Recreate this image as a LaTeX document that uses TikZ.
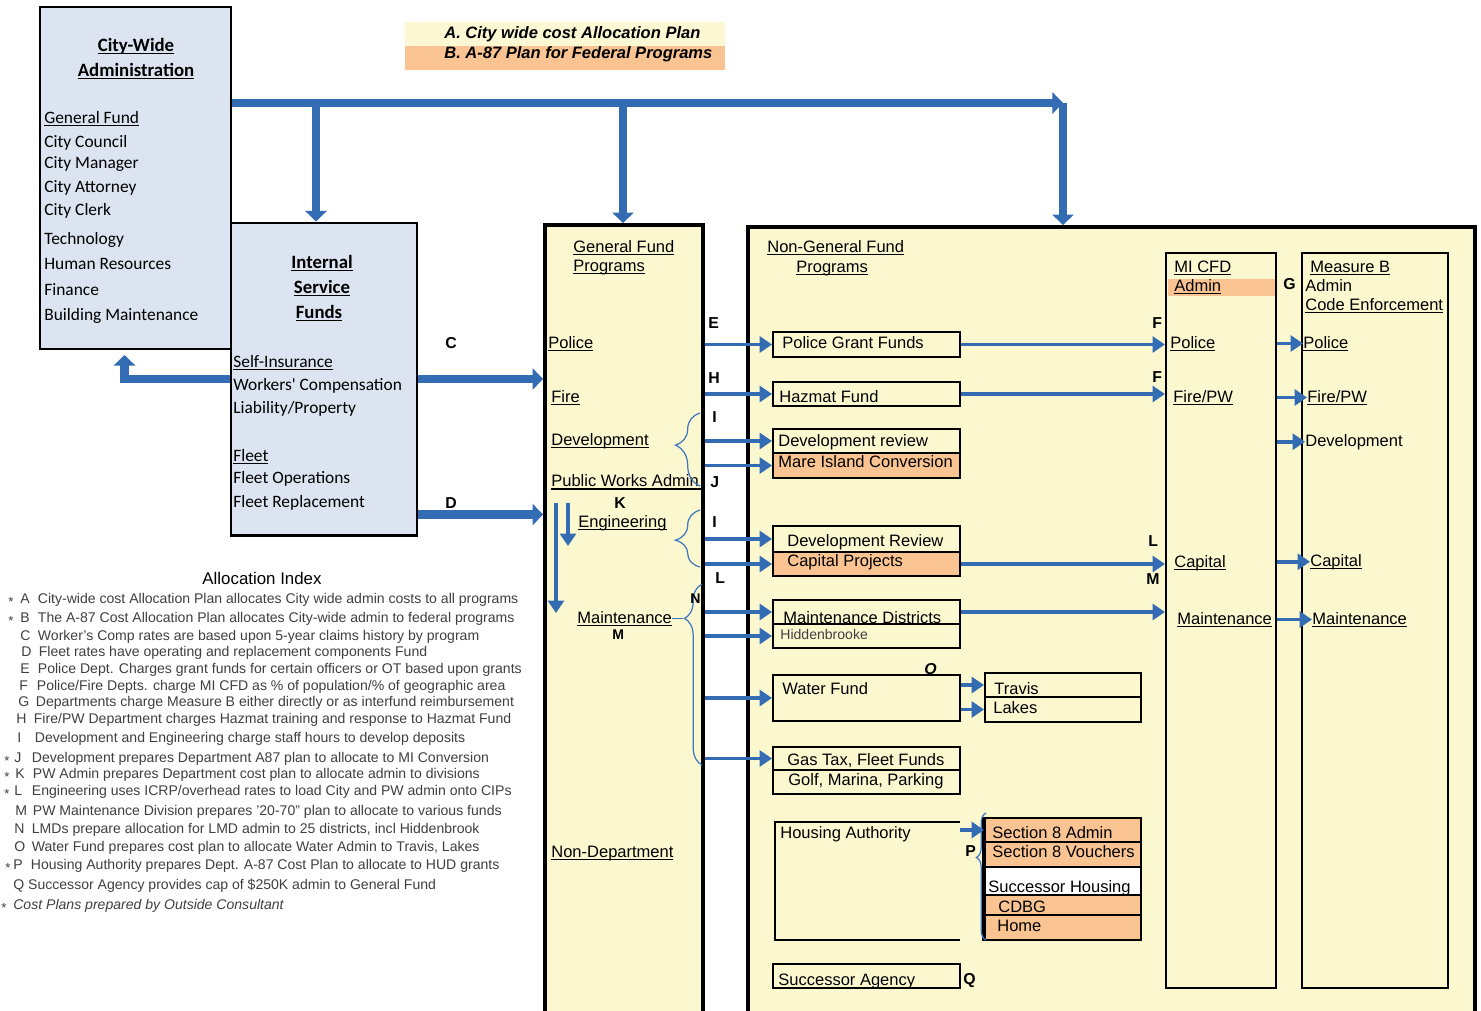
\documentclass[tikz,border=0pt]{standalone}
\usepackage{fontspec}
\setmainfont{Liberation Sans}
\newfontfamily\calib{Carlito}
\usetikzlibrary{arrows.meta, positioning, fit, calc, decorations.pathreplacing}
\definecolor{adminblue}{RGB}{219,228,240}
\definecolor{progyellow}{RGB}{251,248,208}
\definecolor{planorange}{RGB}{250,196,146}
\definecolor{legyellow}{RGB}{252,248,212}
\definecolor{flowblue}{RGB}{52,108,180}
\definecolor{braceblue}{RGB}{62,118,192}
\definecolor{idxgray}{RGB}{64,64,64}

% underline at a fixed depth below the baseline
\newsavebox\undlbox
\newcommand{\undl}[1]{\sbox\undlbox{#1}\rlap{\rule[-1.7pt]{\wd\undlbox}{0.7pt}}\usebox\undlbox}
% index letter followed by its description
\newcommand{\ixl}[2]{\makebox[10pt][l]{#1}#2}

\tikzset{
  adminbox/.style={draw, line width=1.7pt, fill=adminblue, inner sep=0pt},
  progbox/.style={draw, line width=2.2pt, fill=progyellow, inner sep=0pt},
  colbox/.style={draw, line width=1.2pt, fill=progyellow, inner sep=0pt},
  fundbox/.style={draw, line width=1.1pt, fill=progyellow, inner sep=0pt},
  planbox/.style={fundbox, fill=planorange},
  lbl/.style={anchor=base west, inner sep=0pt, font=\fontsize{9.4}{11}\selectfont},
  clbl/.style={anchor=base west, inner sep=0pt, font=\calib\fontsize{9.9}{12}\selectfont},
  ctitle/.style={anchor=base, inner sep=0pt, font=\calib\bfseries\fontsize{10.7}{13}\selectfont},
  tag/.style={anchor=base west, inner sep=0pt, font=\bfseries\fontsize{9}{10}\selectfont},
  idx/.style={anchor=base west, inner sep=0pt, font=\fontsize{8}{9}\selectfont, text=idxgray},
  idxstar/.style={anchor=base west, inner sep=0pt, font=\fontsize{7.5}{8}\selectfont, text=idxgray},
  bigarr/.style={-{Triangle[width=12pt,length=6pt]}, line width=5pt, draw=flowblue},
  midarr/.style={-{Triangle[width=9pt,length=7pt]}, line width=2.2pt, draw=flowblue},
  bracket/.style 2 args={draw=braceblue, line width=0.7pt, decorate,
                         decoration={brace, amplitude=#1, aspect=#2}},
}

\begin{document}
\begin{tikzpicture}[x=0.02cm, y=-0.02cm]
  \clip (0,0) rectangle (1481,1011);
  \fill[white] (0,0) rectangle (1481,1011);

  % Plan legend
  \node[fit={(405,22) (725,46)}, inner sep=0pt, fill=legyellow] (legA) {};
  \node[fit={(405,46) (725,70)}, inner sep=0pt, fill=planorange] (legB) {};
  \node[lbl, font=\bfseries\itshape\fontsize{9.4}{11}\selectfont] (legAt) at (444,38) {A. City wide cost Allocation Plan};
  \node[lbl, font=\bfseries\itshape\fontsize{9.4}{11}\selectfont] (legBt) at (444,58) {B. A-87 Plan for Federal Programs};

  % Admin and internal service boxes
  \node[adminbox, fit={(40,7) (231,349)}] (cwa) {};
  \node[adminbox, fit={(231,223) (417,535)}] (isf) {};

  % Program frames
  \node[progbox, fit={(545,225) (703,1040)}] (gfp) {};
  \node[progbox, fit={(748,227) (1475,1040)}] (ngf) {};
  \node[colbox, fit={(1166,253) (1276,988)}] (micfd) {};
  \node[colbox, fit={(1302,253) (1448,988)}] (measb) {};
  \fill[planorange] (1168,279) rectangle (1275,296);   % admin band

  % Non-general fund boxes
  \node[fundbox, fit={(773,332) (960,357)}] (pgf) {};
  \node[fundbox, fit={(773,382) (960,406)}] (haz) {};
  \node[fundbox, fit={(773,429) (960,453)}] (devrev) {};
  \node[planbox, fit={(773,453) (960,478)}] (mare) {};
  \node[fundbox, fit={(773,526) (960,552)}] (devrev2) {};
  \node[planbox, fit={(773,552) (960,576)}] (cap) {};
  \node[fundbox, fit={(773,600) (960,624)}] (mdist) {};
  \node[fundbox, fit={(773,624) (960,648)}] (hidd) {};
  \node[fundbox, fit={(773,675) (960,721)}] (water) {};
  \node[fundbox, fit={(985,673) (1141,697)}] (travis) {};
  \node[fundbox, fit={(985,697) (1141,722)}] (lakes) {};
  \node[fundbox, fit={(773,747) (960,770)}] (gastax) {};
  \node[fundbox, fit={(773,770) (960,794)}] (golf) {};
  \node[fit={(775,822) (960,940)}, inner sep=0pt] (housing) {};
  \draw[line width=1.1pt] (housing.north east) -- (housing.north west)
        -- (housing.south west) -- (housing.south east);
  \node[planbox, fit={(985,818) (1141,842)}] (sec8a) {};
  \node[planbox, fit={(985,842) (1141,867)}] (sec8v) {};
  \node[fundbox, fill=white, fit={(985,867) (1141,895)}] (shous) {};
  \node[planbox, fit={(985,895) (1141,915)}] (cdbg) {};
  \node[planbox, fit={(985,915) (1141,940)}] (home) {};
  \draw[line width=2pt] (sec8a.north west) -- (home.south west);
  \node[fundbox, fit={(773,964) (960,988)}] (succ) {};

  % City-wide administration text
  \node[ctitle] (cwat1) at (136,51) {\undl{City-Wide}};
  \node[ctitle] (cwat2) at (136,76) {\undl{Administration}};
  \node[clbl] (gfund) at (44,123) {\undl{General Fund}};
  \node[clbl] (council) at (44,147) {City Council};
  \node[clbl] (manager) at (44,168) {City Manager};
  \node[clbl] (attorney) at (44,192) {City Attorney};
  \node[clbl] (clerk) at (44,215) {City Clerk};
  \node[clbl] (tech) at (44,244) {Technology};
  \node[clbl] (hr) at (44,269) {Human Resources};
  \node[clbl] (finance) at (44,295) {Finance};
  \node[clbl] (bldg) at (44,320) {Building Maintenance};

  % Internal service funds text
  \node[ctitle] (isft1) at (322,268) {\undl{Internal}};
  \node[ctitle] (isft2) at (322,293) {\undl{Service}};
  \node[ctitle] (isft3) at (319,318) {\undl{Funds}};
  \node[clbl] (selfins) at (233,367) {\undl{Self-Insurance}};
  \node[clbl] (wcomp) at (233,390) {Workers' Compensation};
  \node[clbl] (liab) at (233,413) {Liability/Property};
  \node[clbl] (fleet) at (233,461) {\undl{Fleet}};
  \node[clbl] (fleetops) at (233,483) {Fleet Operations};
  \node[clbl] (fleetrep) at (233,507) {Fleet Replacement};

  % General fund programs text
  \node[lbl] (gft1) at (573,252) {\undl{General Fund}};
  \node[lbl] (gft2) at (573,271) {\undl{Programs}};
  \node[lbl] (police) at (548,348) {\undl{Police}};
  \node[lbl] (fire) at (551,402) {\undl{Fire}};
  \node[lbl] (dev) at (551,445) {\undl{Development}};
  \node[lbl] (pwa) at (551,486) {Public Works Admin};
  \coordinate (pwaline) at ([yshift=-1.6pt]pwa.base west);
  \draw[line width=0.8pt] (pwaline) -- (pwaline -| gfp.east);
  \node[lbl] (eng) at (578,527) {\undl{Engineering}};
  \node[lbl] (maint) at (577,623) {\undl{Maintenance}};
  \node[lbl] (nondep) at (551,857) {\undl{Non-Department}};

  % Non-general fund programs text
  \node[lbl] (ngft1) at (767,252) {\undl{Non-General Fund}};
  \node[lbl] (ngft2) at (796,272) {\undl{Programs}};
  \node[lbl] (pgft) at (782,348) {Police Grant Funds};
  \node[lbl] (hazt) at (779,402) {Hazmat Fund};
  \node[lbl] (devrevt) at (778,446) {Development review};
  \node[lbl] (maret) at (778,467) {Mare Island Conversion};
  \node[lbl] (devrev2t) at (787,546) {Development Review};
  \node[lbl] (capt) at (787,566) {Capital Projects};
  \node[lbl] (mdistt) at (783,623) {Maintenance Districts};
  \node[lbl, font=\fontsize{8}{9}\selectfont, text=black!75] (hiddt) at (780,639) {Hiddenbrooke};
  \node[lbl] (watert) at (782,694) {Water Fund};
  \node[lbl] (travist) at (994,694) {Travis};
  \node[lbl] (lakest) at (993,713) {Lakes};
  \node[lbl] (gastaxt) at (787,765) {Gas Tax, Fleet Funds};
  \node[lbl] (golft) at (788,785) {Golf, Marina, Parking};
  \node[lbl] (housingt) at (780,838) {Housing Authority};
  \node[lbl] (sec8at) at (992,838) {Section 8 Admin};
  \node[lbl] (sec8vt) at (992,857) {Section 8 Vouchers};
  \node[lbl] (shoust) at (988,892) {Successor Housing};
  \node[lbl] (cdbgt) at (998,912) {CDBG};
  \node[lbl] (homet) at (997,931) {Home};
  \node[lbl] (succt) at (778,985) {Successor Agency};

  % MI CFD and Measure B columns
  \node[lbl] (cfdt) at (1174,272) {\undl{MI CFD}};
  \node[lbl] (cfdadm) at (1174,291) {\undl{Admin}};
  \node[lbl] (cfdpol) at (1170,348) {\undl{Police}};
  \node[lbl] (cfdfire) at (1173,402) {\undl{Fire/PW}};
  \node[lbl] (cfdcap) at (1174,567) {\undl{Capital}};
  \node[lbl] (cfdmaint) at (1177,624) {\undl{Maintenance}};
  \node[lbl] (mbt) at (1310,272) {\undl{Measure B}};
  \node[lbl] (mbadm) at (1305,291) {Admin};
  \node[lbl] (mbcode) at (1305,310) {\undl{Code Enforcement}};
  \node[lbl] (mbpol) at (1303,348) {\undl{Police}};
  \node[lbl] (mbfire) at (1307,402) {\undl{Fire/PW}};
  \node[lbl] (mbdev) at (1305,446) {Development};
  \node[lbl] (mbcap) at (1310,566) {\undl{Capital}};
  \node[lbl] (mbmaint) at (1312,624) {\undl{Maintenance}};

  % City-wide allocation arrows
  \coordinate (barR) at (1063,103);
  \coordinate (dropI) at (316,103);
  \coordinate (dropG) at (623,103);
  \draw[bigarr] (cwa.east |- barR) -- (barR);
  \draw[bigarr] (barR) -- (barR |- ngf.north);
  \draw[bigarr] (dropI) -- (dropI |- isf.north);
  \draw[bigarr] (dropG) -- (dropG |- gfp.north);
  \draw[bigarr] (isf.west) -- ++(-105,0) -- ++(0,-24);
  \draw[bigarr] (isf.east) -- (isf.east -| gfp.west);
  \coordinate (dout) at ([yshift=12.5pt]isf.south east);
  \draw[bigarr] (dout) -- (dout -| gfp.west);

  % General fund to non-general fund
  \foreach \fb in {pgf, haz, devrev, mare, devrev2, cap, mdist, hidd, water, gastax}
    \draw[midarr] (gfp.east |- \fb.west) -- (\fb.west);
  \draw[midarr] (pgf.east) -- (pgf.east -| micfd.west);
  \draw[midarr] (haz.east) -- (haz.east -| micfd.west);
  \draw[midarr] (cap.east) -- (cap.east -| micfd.west);
  \draw[midarr] (mdist.east) -- (mdist.east -| micfd.west);
  \draw[midarr] (water.east |- travis.west) -- (travis.west);
  \draw[midarr] (water.east |- lakes.west) -- (lakes.west);
  \draw[midarr] (housing.east |- sec8a.west) -- (sec8a.west);
  \foreach \mb in {mbpol, mbfire, mbdev, mbcap, mbmaint}
    \draw[midarr] (micfd.east |- \mb.west) -- (\mb.west);

  % PW admin down to divisions
  \coordinate (kA) at (556,503);
  \coordinate (kB) at (568,503);
  \draw[midarr] (kA) -- ++(0,110);
  \draw[midarr] (kB) -- ++(0,43);

  % Braces
  \draw[bracket={14pt}{0.56}] (700,486) -- (700,413);
  \draw[bracket={14pt}{0.47}] (700,567) -- (700,510);
  \draw[bracket={10pt}{0.81}] (702,765) -- (702,584);
  \draw[braceblue, line width=0.7pt] (maint.east) -- ++(11,0);
  \draw[bracket={5.5pt}{0.65}] (986,940) -- (986,813);

  % Allocation letters
  \node[tag] (tagC) at (445,348) {C};
  \node[tag] (tagD) at (445,508) {D};
  \node[tag] (tagE) at (708,328) {E};
  \node[tag] (tagH) at (708,383) {H};
  \node[tag] (tagI1) at (712,422) {I};
  \node[tag] (tagJ) at (710,487) {J};
  \node[tag] (tagK) at (614,508) {K};
  \node[tag] (tagI2) at (712,527) {I};
  \node[tag] (tagL1) at (715,583) {L};
  \node[tag, font=\bfseries\fontsize{8}{9}\selectfont] (tagN) at (690,603) {N};
  \node[tag, font=\bfseries\fontsize{8}{9}\selectfont] (tagM1) at (612,639) {M};
  \node[tag] (tagF1) at (1152,328) {F};
  \node[tag] (tagF2) at (1152,382) {F};
  \node[tag] (tagL2) at (1148,546) {L};
  \node[tag] (tagM2) at (1146,584) {M};
  \node[tag] (tagG) at (1283,289) {G};
  \node[tag, font=\bfseries\itshape\fontsize{9}{10}\selectfont] (tagO) at (924,674) {O};
  \node[tag] (tagP) at (965,856) {P};
  \node[tag] (tagQ) at (963,984) {Q};

  % Allocation index
  \node[idx, anchor=base, text=black, font=\fontsize{9.6}{11}\selectfont] (idxtitle) at (262,584) {Allocation Index};
  \node[idx] (idxA) at (20,603.5) {\ixl{A}{City-wide cost Allocation Plan allocates City wide admin costs to all programs}};
  \node[idx] (idxB) at (20,622.5) {\ixl{B}{The A-87 Cost Allocation Plan allocates City-wide admin to federal programs}};
  \node[idx] (idxC) at (20,640.5) {\ixl{C}{Worker's Comp rates are based upon 5-year claims history by program}};
  \node[idx] (idxD) at (21,656.5) {\ixl{D}{Fleet rates have operating and replacement components Fund}};
  \node[idx] (idxE) at (20,673.5) {\ixl{E}{Police Dept. Charges grant funds for certain officers or OT based upon grants}};
  \node[idx] (idxF) at (19,690.5) {\ixl{F}{Police/Fire Depts. charge MI CFD as \% of population/\% of geographic area}};
  \node[idx] (idxG) at (18,706.5) {\ixl{G}{Departments charge Measure B either directly or as interfund reimbursement}};
  \node[idx] (idxH) at (16,723.5) {\ixl{H}{Fire/PW Department charges Hazmat training and response to Hazmat Fund}};
  \node[idx] (idxI) at (17,742.5) {\ixl{I}{Development and Engineering charge staff hours to develop deposits}};
  \node[idx] (idxJ) at (14,762.5) {\ixl{J}{Development prepares Department A87 plan to allocate to MI Conversion}};
  \node[idx] (idxK) at (15,778.5) {\ixl{K}{PW Admin prepares Department cost plan to allocate admin to divisions}};
  \node[idx] (idxL) at (14,795.5) {\ixl{L}{Engineering uses ICRP/overhead rates to load City and PW admin onto CIPs}};
  \node[idx] (idxM) at (15,815.5) {\ixl{M}{PW Maintenance Division prepares '20-70" plan to allocate to various funds}};
  \node[idx] (idxN) at (14,833.5) {\ixl{N}{LMDs prepare allocation for LMD admin to 25 districts, incl Hiddenbrook}};
  \node[idx] (idxO) at (14,851) {\ixl{O}{Water Fund prepares cost plan to allocate Water Admin to Travis, Lakes}};
  \node[idx] (idxP) at (13,869.5) {\ixl{P}{Housing Authority prepares Dept. A-87 Cost Plan to allocate to HUD grants}};
  \node[idx] (idxQ) at (13,889) {Q Successor Agency provides cap of \$250K admin to General Fund};
  \node[idx, font=\itshape\fontsize{8}{9}\selectfont] (idxnote) at (13,909) {Cost Plans prepared by Outside Consultant};
  % consultant stars
  \node[idxstar] (stA) at (8,606) {*};
  \node[idxstar] (stB) at (8,625) {*};
  \node[idxstar] (stJ) at (4,765) {*};
  \node[idxstar] (stK) at (4,781) {*};
  \node[idxstar] (stL) at (4,798) {*};
  \node[idxstar] (stP) at (5,872) {*};
  \node[idxstar] (stnote) at (1,912) {*};
\end{tikzpicture}
\end{document}
